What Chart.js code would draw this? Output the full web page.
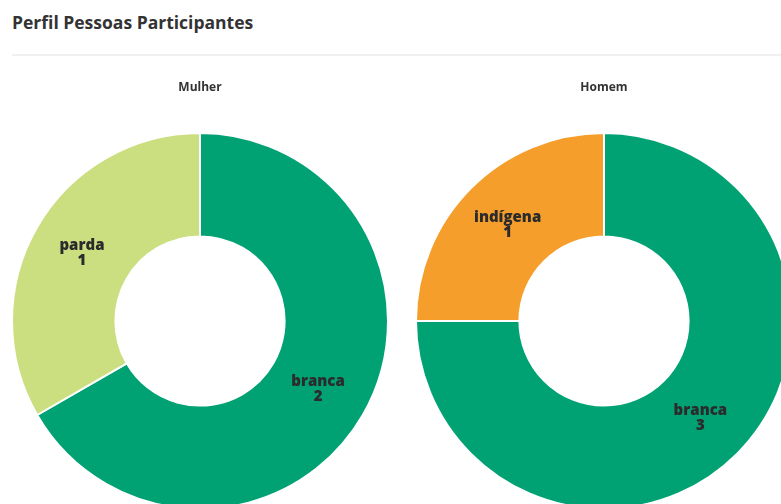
<!DOCTYPE html>
<html lang="pt">
<head>
<meta charset="utf-8">
<title>Perfil Pessoas Participantes</title>
<script src="https://cdn.jsdelivr.net/npm/chart.js@4.4.1/dist/chart.umd.min.js"></script>
<style>
  html, body { margin: 0; padding: 0; background: #fff; overflow: hidden; }
  body { width: 781px; height: 504px; position: relative; font-family: "Open Sans", sans-serif; }
  h2 {
    position: absolute; left: 12px; top: 10px; margin: 0;
    font-size: 17.5px; font-weight: 700; color: #333;
  }
  .rule { position: absolute; left: 12px; right: 0; top: 54px; height: 0; border-top: 2px solid #f0f0f0; }
  .chart-box { position: absolute; top: 70px; width: 378px; height: 440px; }
  #boxMulher { left: 11px; }
  #boxHomem  { left: 415px; }
</style>
</head>
<body>
<h2>Perfil Pessoas Participantes</h2>
<div class="rule"></div>
<div class="chart-box" id="boxMulher"><canvas id="chartMulher"></canvas></div>
<div class="chart-box" id="boxHomem"><canvas id="chartHomem"></canvas></div>

<script>
// Data
const categoriesMulher = ['branca', 'parda'];
const valuesMulher     = [2, 1];
const categoriesHomem  = ['branca', 'indígena'];
const valuesHomem      = [3, 1];

const colorMap = { 'branca': '#00a274', 'parda': '#ccdf80', 'indígena': '#f59e2b' };

// Label di tengah tiap irisan (nama + nilai)
const sliceLabels = {
  id: 'sliceLabels',
  afterDatasetsDraw(chart) {
    const { ctx } = chart;
    const meta = chart.getDatasetMeta(0);
    const data = chart.data.datasets[0].data;
    ctx.save();
    ctx.fillStyle = '#2b2b2b';
    ctx.textAlign = 'center';
    ctx.textBaseline = 'middle';
    ctx.font = '800 15px "Open Sans", sans-serif';
    meta.data.forEach((arc, i) => {
      const pos = arc.tooltipPosition();
      ctx.fillText(chart.data.labels[i], pos.x, pos.y - 7);
      ctx.fillText(String(data[i]), pos.x, pos.y + 8);
    });
    ctx.restore();
  }
};

function makeDonut(canvasId, title, labels, values) {
  return new Chart(document.getElementById(canvasId), {
    type: 'doughnut',
    data: {
      labels,
      datasets: [{
        data: values,
        backgroundColor: labels.map(l => colorMap[l]),
        borderColor: '#ffffff',
        borderWidth: 2
      }]
    },
    options: {
      responsive: true,
      maintainAspectRatio: false,
      animation: false,
      cutout: '45%',
      layout: { padding: 0 },
      plugins: {
        legend: { display: false },
        tooltip: { enabled: false },
        title: {
          display: true,
          text: title,
          color: '#333',
          font: { family: '"Open Sans", sans-serif', size: 12, weight: 'bold' },
          padding: { top: 10, bottom: 37.6 }
        }
      }
    },
    plugins: [sliceLabels]
  });
}

makeDonut('chartMulher', 'Mulher', categoriesMulher, valuesMulher);
makeDonut('chartHomem', 'Homem', categoriesHomem, valuesHomem);
</script>
</body>
</html>
